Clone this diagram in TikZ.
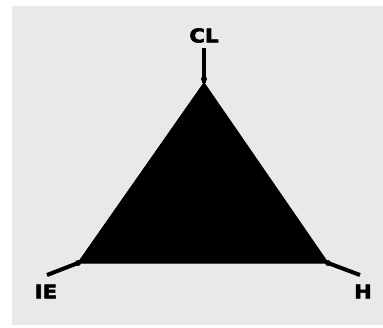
\documentclass[tikz,border=0pt]{standalone}
\usepackage{fontspec}
\newfontfamily\lblfont[FakeStretch=1.12,FakeBold=3]{DejaVu Sans Bold}
\definecolor{bggray}{RGB}{233,233,233}
\tikzset{
  lbl/.style={font=\lblfont\fontsize{19}{19}\selectfont, inner sep=0pt, text=black},
  leg/.style={line width=4pt, black},
  joint/.style={circle, fill=black, inner sep=0pt, minimum size=6pt}
}
\begin{document}
\begin{tikzpicture}[x=1pt,y=-1pt]
\useasboundingbox (0,0) rectangle (383,327);
\fill[white] (0,0) rectangle (383,327);
\fill[bggray] (12,6) rectangle (383,325);
% vertices
\coordinate (top) at (204,83);
\coordinate (left) at (78,263);
\coordinate (right) at (328,263);
% leg ends
\coordinate (topend) at (204,48);
\coordinate (leftend) at (47,275);
\coordinate (rightend) at (360,275);
% triangle
\fill[black, line join=round] (top) -- (right) -- (left) -- cycle;
\draw[black, line width=1.2pt, line join=round] (top) -- (right) -- (left) -- cycle;
% legs
\draw[leg] (topend) -- (top);
\draw[leg] (leftend) -- (left);
\draw[leg] (rightend) -- (right);
\node[joint] (jt) at (204,79) {};
\node[joint] (jl) at (78,263) {};
\node[joint] (jr) at (328,263) {};
% labels
\node[lbl] (CL) at (204,35.5) {CL};
\node[lbl] (IE) at (46,291.5) {IE};
\node[lbl] (H) at (363,291.5) {H};
\end{tikzpicture}
\end{document}
